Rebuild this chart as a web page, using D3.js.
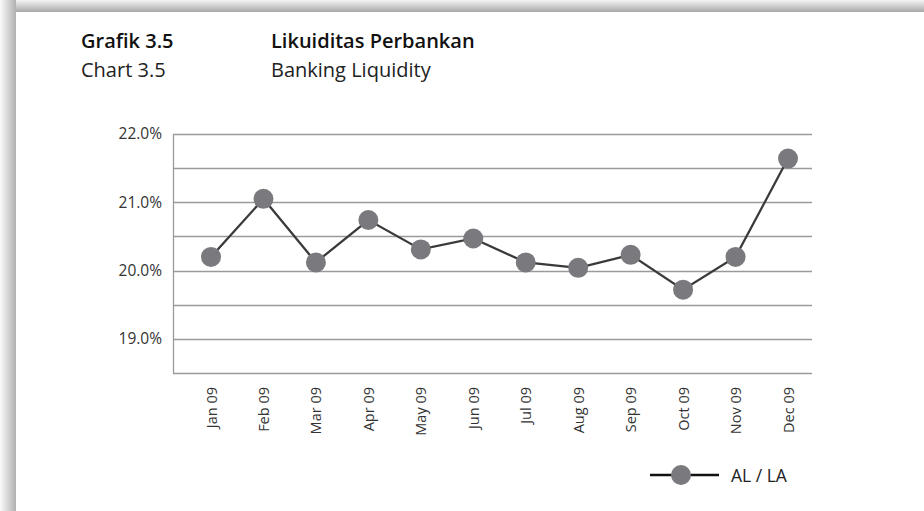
<!DOCTYPE html>
<html>
<head>
<meta charset="utf-8">
<script src="https://cdn.jsdelivr.net/npm/d3@7"></script>
<style>
  body { margin: 0; background: #fff; }
  svg { display: block; font-family: "Open Sans", "Noto Sans", sans-serif; }
</style>
</head>
<body>
<svg id="chart"></svg>
<script>
// data
var months = ["Jan 09", "Feb 09", "Mar 09", "Apr 09", "May 09", "Jun 09",
              "Jul 09", "Aug 09", "Sep 09", "Oct 09", "Nov 09", "Dec 09"];
var alla = [20.20, 21.05, 20.12, 20.74, 20.31, 20.47, 20.12, 20.04, 20.23, 19.72, 20.20, 21.64];
var yTicks = [19.0, 20.0, 21.0, 22.0];
var yGrid = [18.5, 19.0, 19.5, 20.0, 20.5, 21.0, 21.5, 22.0];
var seriesName = "AL / LA";

var width = 924, height = 511;
var svg = d3.select("#chart").attr("width", width).attr("height", height);

// page shadow (top and left)
var defs = svg.append("defs");
var gTop = defs.append("linearGradient").attr("id", "shTop")
    .attr("x1", 0).attr("y1", 0).attr("x2", 0).attr("y2", 1);
gTop.append("stop").attr("offset", "0%").attr("stop-color", "#f4f4f4");
gTop.append("stop").attr("offset", "100%").attr("stop-color", "#a8a8a8");
var gLeft = defs.append("linearGradient").attr("id", "shLeft")
    .attr("x1", 0).attr("y1", 0).attr("x2", 1).attr("y2", 0);
gLeft.append("stop").attr("offset", "0%").attr("stop-color", "#fbfbfb");
gLeft.append("stop").attr("offset", "100%").attr("stop-color", "#b0b0b0");
svg.append("rect").attr("x", 0).attr("y", 0).attr("width", width).attr("height", 12)
    .style("fill", "url(#shTop)");
svg.append("rect").attr("x", 0).attr("y", 0).attr("width", 16).attr("height", height)
    .style("fill", "url(#shLeft)");
svg.append("rect").attr("x", 16).attr("y", 12).attr("width", width - 16).attr("height", height - 12)
    .style("fill", "#fff");

// titles
var titles = svg.append("g").style("fill", "#111").style("font-size", "20px");
titles.append("text").attr("x", 81).attr("y", 48).style("font-weight", 600).text("Grafik 3.5");
titles.append("text").attr("x", 271).attr("y", 48).style("font-weight", 600).text("Likuiditas Perbankan");
titles.append("text").attr("x", 81).attr("y", 77).style("fill", "#222").text("Chart 3.5");
titles.append("text").attr("x", 271).attr("y", 77).style("fill", "#222").text("Banking Liquidity");

// plot area
var margin = { top: 134, left: 173, right: 112, bottom: 138 };
var w = width - margin.left - margin.right;
var h = height - margin.top - margin.bottom;
var g = svg.append("g").attr("transform", "translate(" + margin.left + "," + margin.top + ")");

var x = d3.scalePoint().domain(months).range([38, w - 24]);
var y = d3.scaleLinear().domain([18.5, 22.0]).range([h, 0]);

// gridlines
g.selectAll("line.ygrid")
    .data(yGrid)
    .enter()
    .append("line")
    .attr("class", "ygrid")
    .attr("x1", 0)
    .attr("x2", w)
    .attr("y1", function (d) { return Math.round(y(d)) + 0.5; })
    .attr("y2", function (d) { return Math.round(y(d)) + 0.5; })
    .attr("stroke", "#9a9a9a")
    .attr("stroke-width", 1.3);

// left axis line
g.append("line").attr("x1", 0.5).attr("x2", 0.5).attr("y1", 0).attr("y2", h)
    .attr("stroke", "#9a9a9a").attr("stroke-width", 1.3);

// y labels
var yaxis = d3.axisLeft(y).tickValues(yTicks).tickSize(0).tickPadding(11)
    .tickFormat(function (d) { return d3.format(".1f")(d) + "%"; });
var ya = g.append("g").call(yaxis);
ya.select(".domain").remove();
ya.selectAll("text").style("font-size", "15.5px").style("fill", "#333")
    .style("font-family", "\"Open Sans\", sans-serif");

// x labels
var xaxis = d3.axisBottom(x).tickSize(0).tickPadding(0);
var xa = g.append("g").attr("transform", "translate(0," + h + ")").call(xaxis);
xa.select(".domain").remove();
xa.selectAll("text")
    .style("font-size", "14.5px")
    .style("fill", "#333")
    .style("font-family", "\"Open Sans\", sans-serif")
    .style("text-anchor", "end")
    .attr("dy", "0.35em")
    .attr("x", -14)
    .attr("y", 0)
    .attr("transform", "rotate(-90)");

// series line
var line = d3.line()
    .x(function (d, i) { return x(months[i]); })
    .y(function (d) { return y(d); });
g.append("path")
    .datum(alla)
    .attr("d", line)
    .style("fill", "none")
    .style("stroke", "#3a3a3a")
    .style("stroke-width", 2.3);

g.selectAll("circle.pt")
    .data(alla)
    .enter()
    .append("circle")
    .attr("class", "pt")
    .attr("cx", function (d, i) { return x(months[i]); })
    .attr("cy", function (d) { return y(d); })
    .attr("r", 10)
    .style("fill", "#7a7a7e");

// legend
var lg = svg.append("g").attr("transform", "translate(650,475)");
lg.append("line").attr("x1", 0).attr("x2", 69).attr("y1", 0).attr("y2", 0)
    .style("stroke", "#111").style("stroke-width", 2.3);
lg.append("circle").attr("cx", 31).attr("cy", 0).attr("r", 10).style("fill", "#7a7a7e");
lg.append("text").attr("x", 81).attr("y", 6.5).style("font-size", "17.5px").style("fill", "#222")
    .text(seriesName);
</script>
</body>
</html>
